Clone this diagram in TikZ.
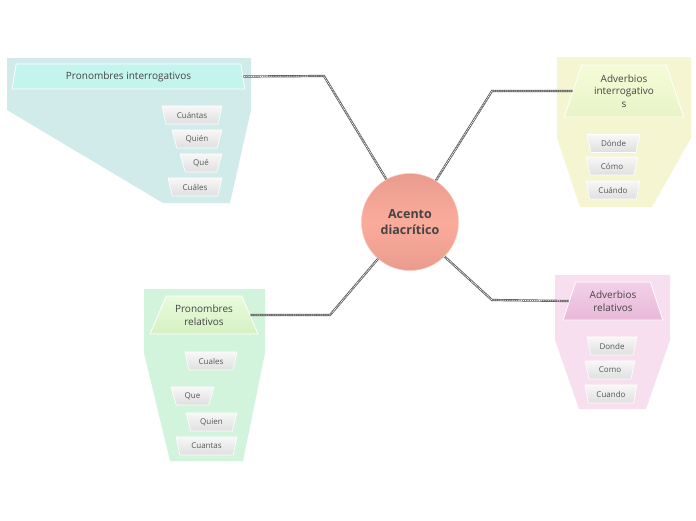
\documentclass[tikz,border=0pt]{standalone}
\usepackage{fontspec}
\setmainfont{Open Sans}
\usetikzlibrary{shapes.geometric}
\definecolor{txt}{HTML}{444444}
\definecolor{bgblue}{HTML}{D1EBEB}
\definecolor{hdblue}{HTML}{C4F4EE}
\definecolor{bgyellow}{HTML}{F5F5D2}
\definecolor{hdyellowA}{HTML}{F5FCD8}
\definecolor{hdyellowB}{HTML}{E8F3C6}
\definecolor{bggreen}{HTML}{D3F4DC}
\definecolor{hdgreenA}{HTML}{E8FCDC}
\definecolor{hdgreenB}{HTML}{D6F0C2}
\definecolor{bgpink}{HTML}{F7DFEF}
\definecolor{hdpinkA}{HTML}{F3D0E8}
\definecolor{hdpinkB}{HTML}{E8B9D9}
\definecolor{hubA}{HTML}{E99C8E}
\definecolor{hubB}{HTML}{FBAB9A}
\definecolor{linkc}{HTML}{5A5A5A}
\tikzset{
  header/.style={trapezium, trapezium stretches=true, draw=white, line width=0.8pt,
    inner sep=1pt, align=center, text=txt, font=\fontsize{10}{12.5}\selectfont},
  child/.style={trapezium, trapezium stretches=true, draw=white, line width=0.6pt,
    trapezium left angle=108, trapezium right angle=108, minimum height=18pt,
    inner sep=0.5pt, text=txt!90, font=\fontsize{8}{9.5}\selectfont,
    top color=gray!6, bottom color=gray!25},
  hub/.style={circle, minimum size=97pt, inner sep=0pt, align=center, text=txt,
    font=\bfseries\fontsize{12.5}{16.5}\selectfont, top color=hubA, bottom color=hubA,
    middle color=hubB, draw=hubB!70!white, line width=0.5pt},
  linkbase/.style={draw=linkc, line width=2.2pt},
  linktop/.style={draw=white, line width=0.8pt, dash pattern=on 1pt off 0.8pt}
}
\begin{document}
\begin{tikzpicture}[x=1pt,y=-1pt]
\useasboundingbox[fill=white] (0,0) rectangle (696,520);
% background regions
\fill[bgblue] (7,58) -- (251,58) -- (251,110) -- (230,203) -- (163,203) -- (7,110) -- cycle;
\fill[bgyellow] (557,57) -- (691,57) -- (691,138) -- (652,207) -- (580,207) -- (557,138) -- cycle;
\fill[bggreen] (144,289) -- (265,289) -- (265,353) -- (243,461) -- (170,461) -- (144,353) -- cycle;
\fill[bgpink] (555,275) -- (670,275) -- (670,340) -- (646,409) -- (579,409) -- (555,340) -- cycle;

% hub
\node[hub] (c) at (410,222) {Acento\\diacrítico};

% headers
\node[header, fill=hdblue, minimum width=233pt, minimum height=25pt,
  trapezium left angle=79, trapezium right angle=79] (pi) at (128.5,76.5) {Pronombres interrogativos};
\node[header, top color=hdyellowA, bottom color=hdyellowB, minimum width=120pt, minimum height=52pt,
  trapezium left angle=70, trapezium right angle=70] (ai) at (624,91) {Adverbios\\interrogativo\\s};
\node[header, top color=hdgreenA, bottom color=hdgreenB, minimum width=108pt, minimum height=38pt,
  trapezium left angle=60, trapezium right angle=60] (pr) at (204,315) {Pronombres\\relativos};
\node[header, top color=hdpinkA, bottom color=hdpinkB, minimum width=100pt, minimum height=38pt,
  trapezium left angle=70, trapezium right angle=70] (ar) at (613,301) {Adverbios\\relativos};

% children: Pronombres interrogativos
\node[child, minimum width=60pt] (pi1) at (192,115) {Cuántas};
\node[child, minimum width=50pt] (pi2) at (197,139) {Quién};
\node[child, minimum width=42pt] (pi3) at (201,163) {Qué};
\node[child, minimum width=54pt] (pi4) at (195,187) {Cuáles};
% children: Adverbios interrogativos
\node[child, minimum width=53pt] (ai1) at (613.5,143.5) {Dónde};
\node[child, minimum width=52pt] (ai2) at (612,166) {Cómo};
\node[child, minimum width=54pt] (ai3) at (613,190) {Cuándo};
% children: Pronombres relativos
\node[child, minimum width=52pt] (pr1) at (211,361) {Cuales};
\node[child, minimum width=43pt] (pr2) at (192.5,396) {Que};
\node[child, minimum width=51pt] (pr3) at (211.5,422) {Quien};
\node[child, minimum width=61pt] (pr4) at (206.5,446) {Cuantas};
% children: Adverbios relativos
\node[child, minimum width=50pt] (ar1) at (612,346) {Donde};
\node[child, minimum width=50pt] (ar2) at (610,370) {Como};
\node[child, minimum width=52pt] (ar3) at (611,394) {Cuando};

% connectors
\coordinate (b1) at (324,76);
\coordinate (b2) at (492,91);
\coordinate (b3) at (330,315);
\coordinate (b4) at (492,300);
\foreach \s in {linkbase,linktop}{
  \path[\s] (c.119) -- (b1) -- (pi.east);
  \path[\s] (c.58) -- (b2) -- (ai.west);
  \path[\s] (c.229) -- (b3) -- (pr.east);
  \path[\s] (c.315) -- (b4) -- (ar.west);
}
\end{tikzpicture}
\end{document}
